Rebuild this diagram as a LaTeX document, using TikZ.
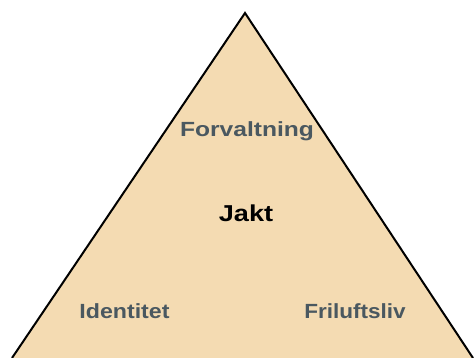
\documentclass[tikz,border=0pt]{standalone}
\usepackage{fontspec}
\setmainfont{Liberation Sans}
\definecolor{parch}{RGB}{244,219,178}
\definecolor{labgray}{RGB}{74,88,96}
\tikzset{
  lab/.style={anchor=base, inner sep=0pt, text=labgray, font=\fontsize{20.5}{24}\selectfont\bfseries},
  mainlab/.style={lab, text=black, font=\fontsize{23}{26}\selectfont\bfseries},
  side/.style={draw=black, line width=2pt, line join=miter}
}
\begin{document}
\begin{tikzpicture}[x=1pt,y=1pt]
\useasboundingbox (0,0) rectangle (474,357);
\clip (0,0) rectangle (474,357);
\coordinate (apex) at (245,344);
\coordinate (bl) at (12,-1);
\coordinate (br) at (473,-1);
\fill[parch] (bl) -- (apex) -- (br) -- cycle;
\draw[side] (bl) -- (apex) -- (br);
\node[lab] (forv) at (247,221) {\scalebox{1.2}[1]{Forvaltning}};
\node[mainlab] (jakt) at (246,136) {\scalebox{1.18}[1]{Jakt}};
\node[lab] (ident) at (124.5,39) {\scalebox{1.13}[1]{Identitet}};
\node[lab] (fril) at (355,39) {\scalebox{1.1}[1]{Friluftsliv}};
\end{tikzpicture}
\end{document}
